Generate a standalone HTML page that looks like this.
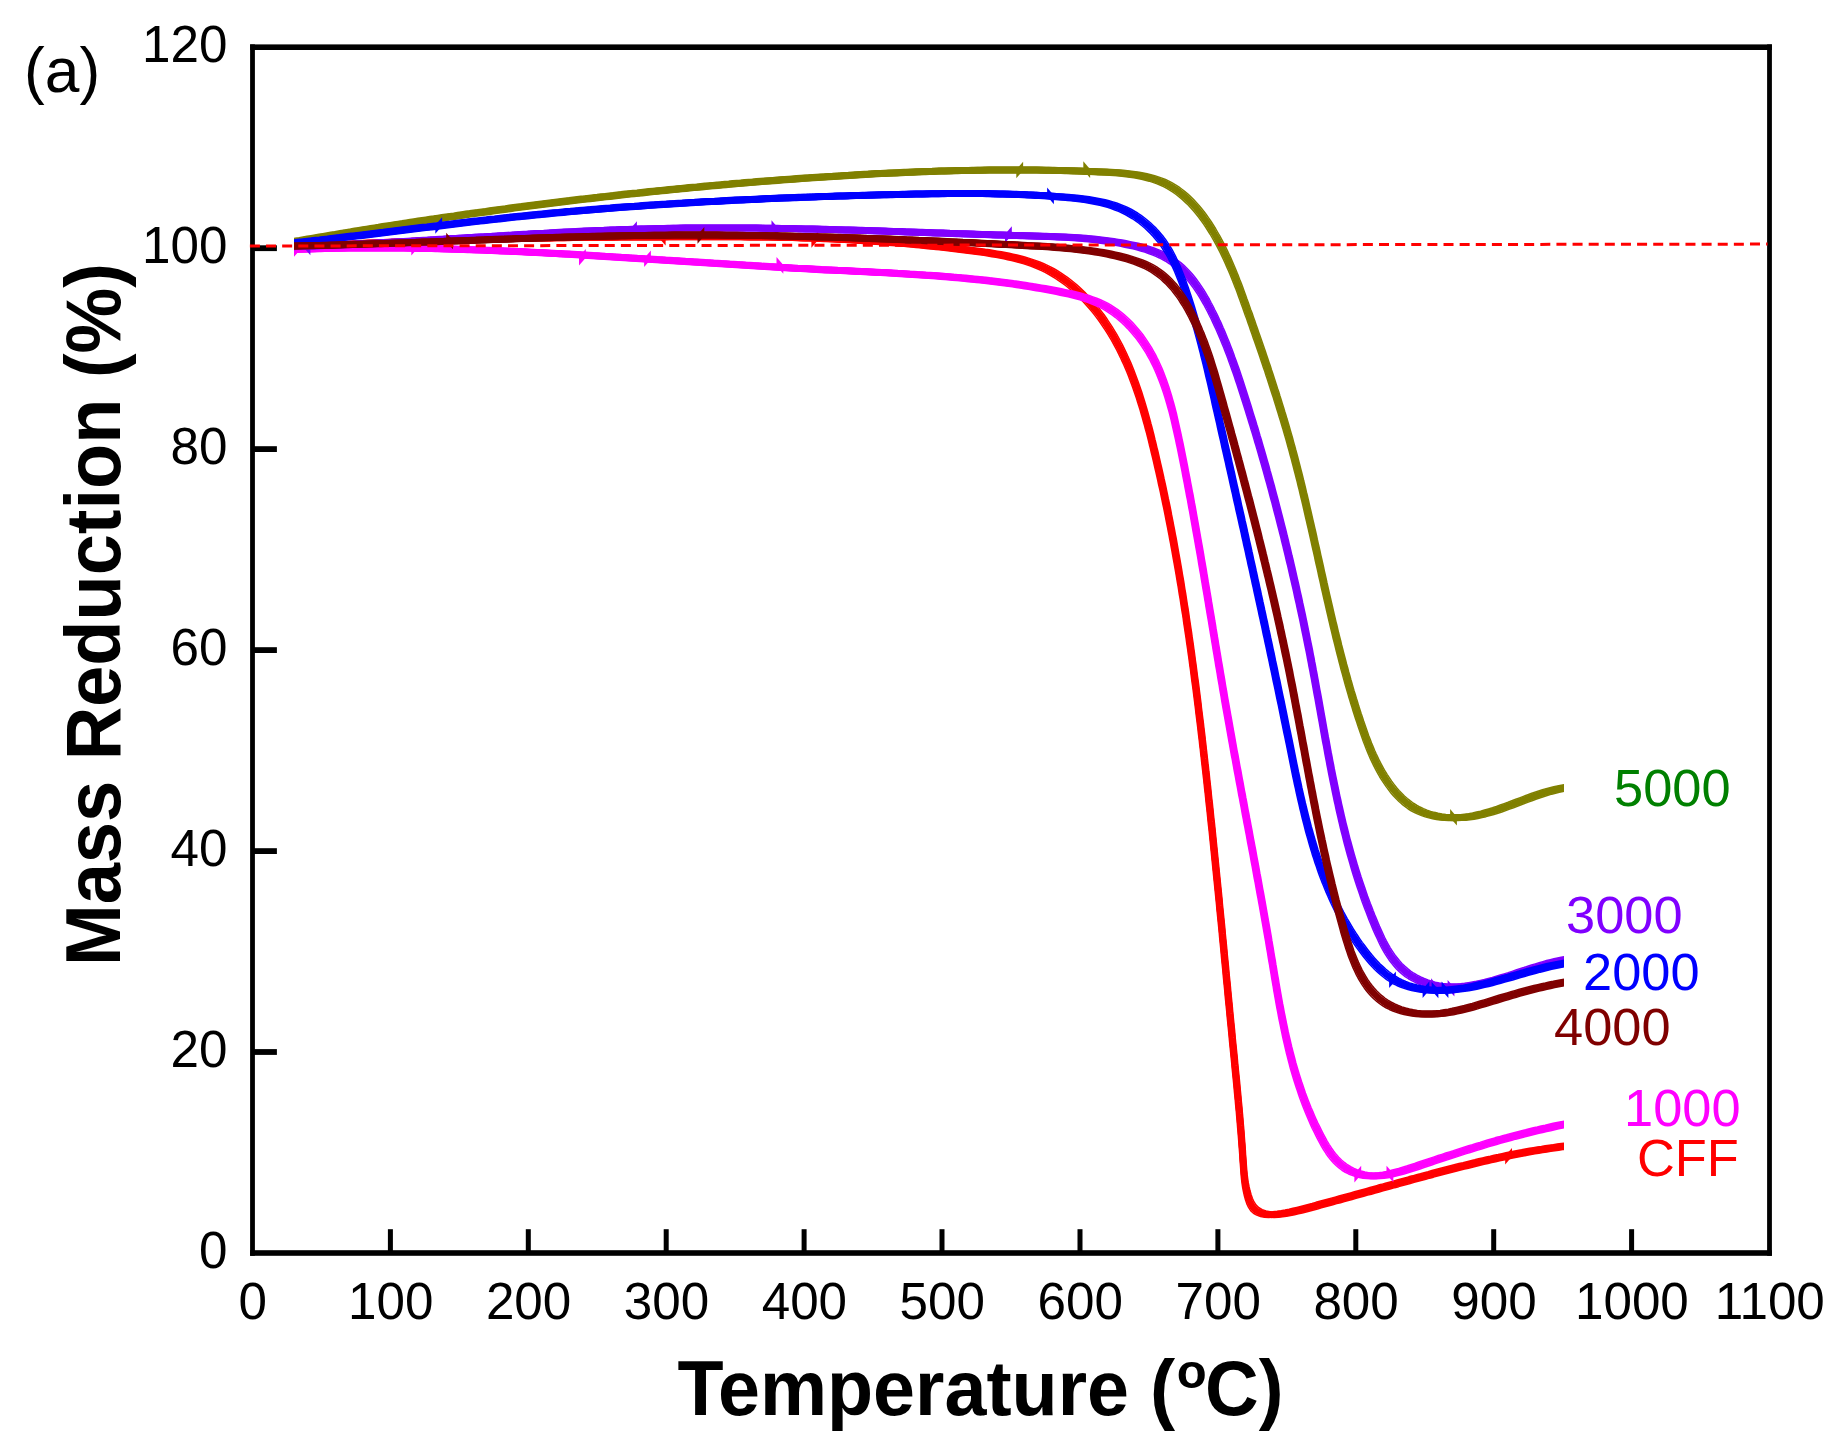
<!DOCTYPE html>
<html lang="en"><head><meta charset="utf-8"><title>TGA mass reduction vs temperature</title>
<style>
html,body{margin:0;padding:0;background:#fff;}
body{width:1844px;height:1448px;overflow:hidden;}
svg{display:block;}
text{font-family:"Liberation Sans",sans-serif;}
.tk{font-size:51.2px;fill:#000;}
.lb{font-size:52.4px;}
.ttl{font-size:77.5px;font-weight:bold;fill:#000;}
.cv{fill:none;stroke-linejoin:round;stroke-linecap:butt;}
</style></head><body>
<svg width="1844" height="1448" viewBox="0 0 1844 1448">
<rect x="0" y="0" width="1844" height="1448" fill="#fff"/>
<defs>
<clipPath id="datarange"><rect x="294" y="40" width="1270" height="1220"/></clipPath>
<path id="c-red" d="M287.0,248.0L294.0,247.5 298.0,247.2 302.0,247.0 306.0,246.7 310.0,246.4 314.0,246.2 318.0,246.0 322.0,245.7 326.0,245.5 330.0,245.2 334.0,245.0 338.1,244.8 342.1,244.6 346.1,244.4 350.1,244.1 354.1,243.9 358.1,243.7 362.1,243.5 366.1,243.3 370.1,243.1 374.1,243.0 378.1,242.8 382.1,242.6 386.1,242.4 390.1,242.2 394.1,242.1 398.1,241.9 402.1,241.8 406.1,241.6 410.1,241.4 414.1,241.3 418.1,241.1 422.1,241.0 426.1,240.9 430.1,240.7 434.2,240.6 438.2,240.5 442.2,240.3 446.2,240.2 450.2,240.1 454.2,240.0 458.2,239.8 462.2,239.7 466.2,239.6 470.2,239.5 474.2,239.4 478.2,239.3 482.2,239.2 486.2,239.1 490.2,239.0 494.2,238.9 498.2,238.8 502.2,238.7 506.2,238.7 510.2,238.6 514.3,238.5 518.3,238.4 522.3,238.4 526.3,238.3 530.3,238.2 534.3,238.1 538.3,238.1 542.3,238.0 546.3,238.0 550.3,237.9 554.3,237.8 558.3,237.8 562.3,237.7 566.3,237.7 570.3,237.6 574.4,237.6 578.4,237.5 582.4,237.5 586.4,237.4 590.4,237.4 594.4,237.4 598.4,237.3 602.4,237.3 606.4,237.2 610.4,237.2 614.5,237.2 618.5,237.1 622.5,237.1 626.5,237.1 630.5,237.1 634.5,237.0 638.5,237.0 642.5,237.0 646.6,237.0 650.6,236.9 654.6,236.9 658.6,236.9 662.6,236.9 666.6,236.8 670.6,236.8 674.7,236.8 678.7,236.8 682.7,236.8 686.7,236.8 690.7,236.7 694.7,236.7 698.7,236.7 702.8,236.7 706.8,236.7 710.8,236.7 714.8,236.7 718.8,236.7 722.8,236.7 726.9,236.7 730.9,236.8 734.9,236.8 738.9,236.8 742.9,236.8 746.9,236.9 750.9,236.9 754.9,236.9 758.9,237.0 763.0,237.0 767.0,237.1 771.0,237.1 775.0,237.2 779.0,237.3 783.0,237.4 787.0,237.4 791.0,237.5 795.0,237.6 799.0,237.7 803.0,237.9 807.0,238.0 811.0,238.1 815.0,238.2 819.0,238.4 823.0,238.5 827.0,238.7 831.0,238.8 835.0,239.0 838.9,239.2 842.9,239.4 846.9,239.6 850.9,239.8 854.9,240.0 858.9,240.2 862.9,240.5 866.8,240.7 870.8,241.0 874.8,241.2 878.8,241.5 882.8,241.8 886.7,242.1 890.7,242.4 894.7,242.7 898.7,243.0 902.7,243.3 906.7,243.6 910.7,244.0 914.6,244.3 918.6,244.7 922.6,245.1 926.6,245.5 930.6,245.9 934.6,246.3 938.6,246.7 942.6,247.1 946.6,247.6 950.6,248.0 954.6,248.5 958.6,249.0 962.6,249.5 966.6,250.0 970.6,250.5 974.6,251.0 978.6,251.5 982.6,252.1 986.6,252.6 990.6,253.2 994.6,253.9 998.6,254.6 1002.5,255.3 1006.5,256.1 1010.4,256.9 1014.3,257.8 1018.2,258.7 1022.0,259.8 1025.8,260.9 1029.6,262.1 1033.3,263.4 1037.0,264.8 1040.6,266.3 1044.2,267.9 1047.8,269.7 1051.3,271.5 1054.7,273.5 1058.1,275.6 1061.4,277.8 1064.7,280.1 1067.9,282.5 1071.0,285.0 1074.1,287.6 1077.1,290.3 1080.0,293.1 1082.9,295.9 1085.7,298.8 1088.4,301.8 1091.1,304.8 1093.7,307.8 1096.2,310.9 1098.7,314.1 1101.1,317.3 1103.4,320.5 1105.6,323.8 1107.8,327.1 1109.9,330.4 1112.0,333.8 1114.0,337.2 1115.9,340.7 1117.8,344.2 1119.7,347.7 1121.4,351.2 1123.2,354.8 1124.8,358.4 1126.5,362.0 1128.1,365.6 1129.6,369.3 1131.1,373.0 1132.5,376.7 1133.9,380.4 1135.3,384.2 1136.6,388.0 1137.9,391.8 1139.2,395.6 1140.4,399.4 1141.6,403.2 1142.8,407.1 1143.9,411.0 1145.0,414.8 1146.1,418.7 1147.2,422.6 1148.2,426.5 1149.3,430.4 1150.3,434.4 1151.3,438.3 1152.2,442.2 1153.2,446.1 1154.1,450.1 1155.1,454.0 1156.0,457.9 1156.9,461.8 1157.8,465.8 1158.7,469.7 1159.6,473.6 1160.5,477.6 1161.3,481.5 1162.2,485.4 1163.1,489.4 1163.9,493.3 1164.7,497.2 1165.5,501.2 1166.4,505.1 1167.2,509.0 1168.0,513.0 1168.7,516.9 1169.5,520.8 1170.3,524.8 1171.0,528.7 1171.8,532.7 1172.5,536.6 1173.3,540.5 1174.0,544.5 1174.7,548.4 1175.4,552.3 1176.1,556.3 1176.8,560.2 1177.5,564.2 1178.2,568.1 1178.9,572.1 1179.5,576.0 1180.2,580.0 1180.9,583.9 1181.5,587.8 1182.1,591.8 1182.8,595.7 1183.4,599.7 1184.0,603.6 1184.6,607.6 1185.3,611.5 1185.9,615.5 1186.4,619.4 1187.0,623.4 1187.6,627.3 1188.2,631.3 1188.8,635.2 1189.3,639.2 1189.9,643.2 1190.5,647.1 1191.0,651.1 1191.6,655.0 1192.1,659.0 1192.6,663.0 1193.2,666.9 1193.7,670.9 1194.2,674.8 1194.7,678.8 1195.3,682.8 1195.8,686.7 1196.3,690.7 1196.8,694.7 1197.3,698.6 1197.8,702.6 1198.3,706.6 1198.7,710.5 1199.2,714.5 1199.7,718.5 1200.2,722.5 1200.7,726.4 1201.1,730.4 1201.6,734.4 1202.1,738.4 1202.5,742.4 1203.0,746.3 1203.4,750.3 1203.9,754.3 1204.3,758.3 1204.8,762.3 1205.2,766.2 1205.7,770.2 1206.1,774.2 1206.6,778.2 1207.0,782.2 1207.4,786.2 1207.9,790.2 1208.3,794.2 1208.7,798.2 1209.1,802.1 1209.6,806.1 1210.0,810.1 1210.4,814.1 1210.8,818.1 1211.2,822.1 1211.7,826.1 1212.1,830.1 1212.5,834.1 1212.9,838.1 1213.3,842.1 1213.7,846.1 1214.1,850.1 1214.5,854.1 1214.9,858.1 1215.3,862.1 1215.7,866.1 1216.1,870.1 1216.5,874.1 1216.9,878.1 1217.3,882.1 1217.7,886.1 1218.1,890.1 1218.5,894.1 1218.9,898.1 1219.3,902.1 1219.6,906.1 1220.0,910.0 1220.4,914.0 1220.8,918.0 1221.2,922.0 1221.6,926.0 1222.0,930.0 1222.3,934.0 1222.7,938.0 1223.1,942.0 1223.5,946.0 1223.9,950.0 1224.2,954.0 1224.6,958.0 1225.0,962.0 1225.4,966.0 1225.8,970.0 1226.1,974.0 1226.5,978.0 1226.9,981.9 1227.3,985.9 1227.7,989.9 1228.0,993.9 1228.4,997.9 1228.8,1001.9 1229.2,1005.9 1229.6,1009.9 1229.9,1013.8 1230.3,1017.8 1230.7,1021.8 1231.1,1025.8 1231.5,1029.8 1231.9,1033.7 1232.2,1037.7 1232.6,1041.7 1233.0,1045.7 1233.4,1049.6 1233.8,1053.6 1234.2,1057.6 1234.6,1061.6 1234.9,1065.5 1235.3,1069.5 1235.7,1073.5 1236.1,1077.4 1236.5,1081.4 1236.9,1085.4 1237.2,1089.4 1237.6,1093.3 1238.0,1097.3 1238.3,1101.3 1238.7,1105.3 1239.1,1109.2 1239.4,1113.2 1239.8,1117.2 1240.1,1121.2 1240.4,1125.2 1240.8,1129.2 1241.1,1133.2 1241.4,1137.2 1241.7,1141.2 1242.0,1145.2 1242.3,1149.2 1242.6,1153.3 1242.8,1157.3 1243.1,1161.3 1243.4,1165.3 1243.7,1169.4 1244.0,1173.4 1244.4,1177.4 1244.9,1181.4 1245.5,1185.4 1246.3,1189.4 1247.2,1193.3 1248.3,1197.3 1249.6,1201.1 1251.3,1204.7 1253.4,1207.9 1256.2,1210.5 1259.5,1212.4 1263.3,1213.7 1267.3,1214.5 1271.4,1214.7 1275.6,1214.5 1279.8,1214.1 1283.8,1213.5 1287.8,1212.8 1291.8,1212.0 1295.7,1211.1 1299.5,1210.2 1303.4,1209.2 1307.2,1208.2 1311.0,1207.2 1314.8,1206.2 1318.6,1205.1 1322.4,1204.1 1326.3,1203.0 1330.1,1202.0 1334.0,1200.9 1337.8,1199.9 1341.7,1198.8 1345.5,1197.8 1349.4,1196.7 1353.3,1195.6 1357.1,1194.6 1361.0,1193.5 1364.9,1192.4 1368.7,1191.4 1372.6,1190.3 1376.5,1189.2 1380.4,1188.1 1384.3,1187.1 1388.1,1186.0 1392.0,1184.9 1395.9,1183.9 1399.8,1182.8 1403.7,1181.7 1407.5,1180.7 1411.4,1179.6 1415.3,1178.6 1419.2,1177.5 1423.1,1176.5 1426.9,1175.4 1430.8,1174.4 1434.7,1173.3 1438.6,1172.3 1442.4,1171.3 1446.3,1170.3 1450.2,1169.3 1454.1,1168.3 1457.9,1167.3 1461.8,1166.3 1465.7,1165.4 1469.6,1164.4 1473.5,1163.5 1477.4,1162.6 1481.3,1161.6 1485.2,1160.7 1489.0,1159.8 1493.0,1159.0 1496.9,1158.1 1500.8,1157.3 1504.7,1156.4 1508.6,1155.6 1512.5,1154.8 1516.4,1154.1 1520.4,1153.3 1524.3,1152.6 1528.2,1151.8 1532.2,1151.1 1536.1,1150.5 1540.1,1149.8 1544.1,1149.2 1548.0,1148.5 1552.0,1147.9 1556.0,1147.4 1560.0,1146.8 1564.0,1146.3 1571.0,1145.3"/>
<path id="c-magenta" d="M287.0,249.7L294.0,249.5 298.0,249.3 302.0,249.2 306.0,249.0 310.0,248.9 314.0,248.8 318.1,248.7 322.1,248.6 326.1,248.5 330.1,248.4 334.1,248.3 338.1,248.2 342.1,248.2 346.1,248.1 350.1,248.1 354.1,248.0 358.1,248.0 362.2,248.0 366.2,248.0 370.2,247.9 374.2,247.9 378.2,247.9 382.2,248.0 386.2,248.0 390.2,248.0 394.2,248.0 398.2,248.0 402.3,248.1 406.3,248.1 410.3,248.2 414.3,248.2 418.3,248.3 422.3,248.4 426.3,248.5 430.3,248.5 434.3,248.6 438.3,248.7 442.3,248.8 446.4,248.9 450.4,249.0 454.4,249.2 458.4,249.3 462.4,249.4 466.4,249.5 470.4,249.7 474.4,249.8 478.4,249.9 482.4,250.1 486.5,250.2 490.5,250.4 494.5,250.6 498.5,250.7 502.5,250.9 506.5,251.1 510.5,251.2 514.5,251.4 518.5,251.6 522.5,251.8 526.6,252.0 530.6,252.2 534.6,252.4 538.6,252.6 542.6,252.8 546.6,253.0 550.6,253.2 554.6,253.4 558.6,253.6 562.6,253.9 566.6,254.1 570.7,254.3 574.7,254.5 578.7,254.8 582.7,255.0 586.7,255.2 590.7,255.5 594.7,255.7 598.7,255.9 602.7,256.2 606.7,256.4 610.7,256.7 614.8,256.9 618.8,257.2 622.8,257.4 626.8,257.7 630.8,257.9 634.8,258.2 638.8,258.4 642.8,258.7 646.8,258.9 650.8,259.2 654.8,259.5 658.8,259.7 662.9,260.0 666.9,260.2 670.9,260.5 674.9,260.7 678.9,261.0 682.9,261.3 686.9,261.5 690.9,261.8 694.9,262.0 698.9,262.3 702.9,262.6 706.9,262.8 710.9,263.1 714.9,263.3 719.0,263.6 723.0,263.8 727.0,264.1 731.0,264.3 735.0,264.6 739.0,264.8 743.0,265.1 747.0,265.3 751.0,265.6 755.0,265.8 759.0,266.1 763.0,266.3 767.0,266.6 771.0,266.8 775.0,267.0 779.0,267.3 783.0,267.5 787.1,267.7 791.1,267.9 795.1,268.2 799.1,268.4 803.1,268.6 807.1,268.8 811.1,269.0 815.1,269.2 819.1,269.5 823.1,269.7 827.1,269.9 831.1,270.1 835.1,270.3 839.1,270.4 843.1,270.6 847.1,270.8 851.1,271.0 855.1,271.2 859.1,271.4 863.1,271.6 867.1,271.8 871.1,272.0 875.1,272.2 879.1,272.4 883.1,272.6 887.1,272.8 891.1,273.0 895.1,273.3 899.1,273.5 903.1,273.7 907.1,274.0 911.1,274.2 915.1,274.5 919.1,274.7 923.1,275.0 927.1,275.2 931.1,275.5 935.1,275.8 939.1,276.1 943.1,276.4 947.1,276.7 951.1,277.1 955.1,277.4 959.1,277.8 963.1,278.1 967.1,278.5 971.1,278.9 975.1,279.3 979.1,279.7 983.0,280.1 987.0,280.6 991.0,281.0 995.0,281.5 999.0,282.0 1003.0,282.5 1007.0,283.0 1011.0,283.6 1015.0,284.1 1019.0,284.7 1023.0,285.3 1026.9,285.9 1030.9,286.6 1034.9,287.2 1038.9,287.9 1042.9,288.6 1046.9,289.3 1050.9,290.0 1054.9,290.8 1058.8,291.6 1062.8,292.4 1066.8,293.2 1070.8,294.1 1074.7,295.0 1078.6,296.0 1082.5,297.1 1086.4,298.3 1090.2,299.6 1094.0,301.0 1097.7,302.5 1101.3,304.1 1104.9,305.9 1108.3,307.9 1111.7,310.1 1115.1,312.4 1118.3,314.8 1121.4,317.4 1124.4,320.0 1127.3,322.8 1130.1,325.6 1132.7,328.5 1135.3,331.4 1137.8,334.4 1140.2,337.5 1142.4,340.6 1144.6,343.8 1146.7,347.1 1148.8,350.4 1150.7,353.8 1152.6,357.2 1154.3,360.7 1156.1,364.2 1157.7,367.8 1159.3,371.4 1160.8,375.1 1162.2,378.7 1163.6,382.5 1164.9,386.2 1166.2,390.0 1167.4,393.9 1168.6,397.7 1169.7,401.6 1170.8,405.5 1171.9,409.4 1172.9,413.4 1173.9,417.3 1174.8,421.3 1175.7,425.3 1176.6,429.3 1177.5,433.3 1178.4,437.3 1179.2,441.3 1180.1,445.3 1180.9,449.3 1181.7,453.3 1182.5,457.3 1183.3,461.3 1184.1,465.3 1184.9,469.3 1185.6,473.3 1186.4,477.3 1187.2,481.3 1187.9,485.3 1188.7,489.3 1189.4,493.3 1190.2,497.2 1190.9,501.2 1191.6,505.2 1192.4,509.2 1193.1,513.1 1193.8,517.1 1194.5,521.1 1195.2,525.0 1195.9,529.0 1196.6,532.9 1197.3,536.9 1198.0,540.8 1198.7,544.8 1199.4,548.7 1200.1,552.7 1200.8,556.6 1201.4,560.6 1202.1,564.5 1202.8,568.5 1203.5,572.4 1204.1,576.3 1204.8,580.3 1205.4,584.2 1206.1,588.1 1206.8,592.1 1207.4,596.0 1208.1,599.9 1208.7,603.9 1209.4,607.8 1210.0,611.7 1210.7,615.7 1211.4,619.6 1212.0,623.5 1212.7,627.4 1213.3,631.4 1214.0,635.3 1214.6,639.2 1215.3,643.1 1215.9,647.1 1216.6,651.0 1217.2,654.9 1217.9,658.8 1218.5,662.8 1219.2,666.7 1219.9,670.6 1220.5,674.6 1221.2,678.5 1221.9,682.4 1222.5,686.3 1223.2,690.3 1223.9,694.2 1224.5,698.1 1225.2,702.1 1225.9,706.0 1226.6,709.9 1227.3,713.9 1228.0,717.8 1228.7,721.7 1229.4,725.7 1230.1,729.6 1230.8,733.6 1231.5,737.5 1232.2,741.4 1232.9,745.4 1233.6,749.3 1234.3,753.3 1235.1,757.2 1235.8,761.2 1236.5,765.1 1237.2,769.1 1238.0,773.0 1238.7,777.0 1239.4,780.9 1240.2,784.9 1240.9,788.8 1241.6,792.8 1242.4,796.7 1243.1,800.7 1243.9,804.6 1244.6,808.6 1245.3,812.6 1246.1,816.5 1246.8,820.5 1247.6,824.4 1248.3,828.4 1249.1,832.4 1249.8,836.3 1250.5,840.3 1251.3,844.3 1252.0,848.2 1252.8,852.2 1253.5,856.1 1254.2,860.1 1255.0,864.1 1255.7,868.0 1256.4,872.0 1257.1,876.0 1257.9,879.9 1258.6,883.9 1259.3,887.9 1260.0,891.8 1260.8,895.8 1261.5,899.8 1262.2,903.7 1262.9,907.7 1263.6,911.7 1264.3,915.6 1265.0,919.6 1265.7,923.6 1266.4,927.5 1267.1,931.5 1267.8,935.5 1268.5,939.4 1269.1,943.4 1269.8,947.4 1270.5,951.3 1271.1,955.3 1271.8,959.3 1272.5,963.2 1273.1,967.2 1273.8,971.2 1274.4,975.1 1275.1,979.1 1275.8,983.0 1276.4,987.0 1277.1,990.9 1277.8,994.9 1278.5,998.8 1279.2,1002.8 1279.9,1006.7 1280.7,1010.6 1281.4,1014.6 1282.2,1018.5 1283.0,1022.4 1283.8,1026.3 1284.6,1030.2 1285.4,1034.2 1286.3,1038.1 1287.2,1041.9 1288.1,1045.8 1289.0,1049.7 1290.0,1053.6 1291.0,1057.5 1292.0,1061.3 1293.0,1065.2 1294.1,1069.0 1295.2,1072.8 1296.4,1076.7 1297.6,1080.5 1298.8,1084.3 1300.1,1088.1 1301.4,1091.9 1302.7,1095.7 1304.1,1099.5 1305.5,1103.2 1307.0,1107.0 1308.5,1110.7 1310.1,1114.4 1311.7,1118.2 1313.3,1121.9 1315.0,1125.6 1316.8,1129.2 1318.6,1132.9 1320.5,1136.6 1322.4,1140.2 1324.4,1143.8 1326.5,1147.3 1328.7,1150.7 1331.0,1154.0 1333.4,1157.1 1336.0,1160.0 1338.8,1162.7 1341.7,1165.2 1344.7,1167.5 1348.0,1169.5 1351.3,1171.2 1354.8,1172.6 1358.4,1173.8 1362.1,1174.8 1365.8,1175.4 1369.6,1175.8 1373.5,1175.9 1377.4,1175.7 1381.3,1175.4 1385.3,1174.9 1389.2,1174.2 1393.2,1173.3 1397.2,1172.3 1401.3,1171.2 1405.3,1170.0 1409.3,1168.8 1413.3,1167.5 1417.3,1166.2 1421.3,1164.8 1425.2,1163.5 1429.1,1162.2 1433.0,1160.9 1436.9,1159.6 1440.8,1158.3 1444.6,1157.1 1448.5,1155.8 1452.3,1154.6 1456.1,1153.4 1459.9,1152.1 1463.7,1150.9 1467.5,1149.7 1471.3,1148.5 1475.1,1147.4 1478.8,1146.2 1482.6,1145.1 1486.4,1143.9 1490.2,1142.8 1493.9,1141.7 1497.7,1140.6 1501.5,1139.6 1505.3,1138.5 1509.1,1137.5 1512.9,1136.4 1516.7,1135.4 1520.6,1134.4 1524.4,1133.4 1528.3,1132.5 1532.2,1131.5 1536.1,1130.6 1540.0,1129.7 1543.9,1128.7 1547.9,1127.9 1551.9,1127.0 1555.9,1126.1 1559.9,1125.3 1564.0,1124.5 1571.0,1123.0"/>
<path id="c-olive" d="M287.0,243.1L294.0,241.8 298.0,241.1 301.9,240.5 305.8,239.8 309.8,239.1 313.7,238.4 317.7,237.7 321.6,237.0 325.5,236.4 329.5,235.7 333.4,235.0 337.4,234.4 341.3,233.7 345.3,233.1 349.2,232.4 353.2,231.8 357.2,231.1 361.1,230.5 365.1,229.8 369.0,229.2 373.0,228.5 376.9,227.9 380.9,227.3 384.9,226.6 388.8,226.0 392.8,225.4 396.7,224.8 400.7,224.2 404.7,223.6 408.6,222.9 412.6,222.3 416.6,221.7 420.5,221.1 424.5,220.5 428.5,219.9 432.4,219.3 436.4,218.8 440.4,218.2 444.3,217.6 448.3,217.0 452.3,216.4 456.3,215.9 460.2,215.3 464.2,214.7 468.2,214.1 472.2,213.6 476.1,213.0 480.1,212.5 484.1,211.9 488.1,211.4 492.1,210.8 496.0,210.3 500.0,209.7 504.0,209.2 508.0,208.7 512.0,208.1 515.9,207.6 519.9,207.1 523.9,206.6 527.9,206.0 531.9,205.5 535.9,205.0 539.8,204.5 543.8,204.0 547.8,203.5 551.8,203.0 555.8,202.5 559.8,202.0 563.8,201.5 567.7,201.0 571.7,200.6 575.7,200.1 579.7,199.6 583.7,199.1 587.7,198.7 591.7,198.2 595.7,197.7 599.7,197.3 603.6,196.8 607.6,196.4 611.6,195.9 615.6,195.5 619.6,195.0 623.6,194.6 627.6,194.1 631.6,193.7 635.6,193.3 639.6,192.9 643.6,192.4 647.5,192.0 651.5,191.6 655.5,191.2 659.5,190.8 663.5,190.4 667.5,190.0 671.5,189.6 675.5,189.2 679.5,188.8 683.5,188.4 687.5,188.0 691.5,187.6 695.4,187.2 699.4,186.9 703.4,186.5 707.4,186.1 711.4,185.8 715.4,185.4 719.4,185.0 723.4,184.7 727.4,184.3 731.4,184.0 735.4,183.6 739.4,183.3 743.4,183.0 747.3,182.6 751.3,182.3 755.3,182.0 759.3,181.6 763.3,181.3 767.3,181.0 771.3,180.7 775.3,180.4 779.3,180.1 783.3,179.8 787.2,179.5 791.2,179.2 795.2,178.9 799.2,178.6 803.2,178.3 807.2,178.0 811.2,177.8 815.2,177.5 819.1,177.2 823.1,176.9 827.1,176.7 831.1,176.4 835.1,176.2 839.1,175.9 843.1,175.7 847.0,175.4 851.0,175.2 855.0,174.9 859.0,174.7 863.0,174.5 867.0,174.3 870.9,174.1 874.9,173.8 878.9,173.6 882.9,173.4 886.9,173.2 890.9,173.0 894.9,172.9 898.9,172.7 902.8,172.5 906.8,172.3 910.8,172.2 914.8,172.0 918.8,171.8 922.8,171.7 926.8,171.5 930.8,171.4 934.8,171.3 938.8,171.1 942.8,171.0 946.8,170.9 950.8,170.8 954.8,170.7 958.8,170.6 962.8,170.5 966.8,170.4 970.8,170.4 974.8,170.3 978.8,170.2 982.9,170.2 986.9,170.1 990.9,170.1 994.9,170.0 998.9,170.0 1003.0,170.0 1007.0,170.0 1011.0,170.0 1015.0,170.0 1019.1,170.0 1023.1,170.0 1027.1,170.0 1031.2,170.1 1035.2,170.1 1039.3,170.1 1043.3,170.2 1047.4,170.3 1051.4,170.3 1055.5,170.4 1059.5,170.5 1063.6,170.6 1067.7,170.7 1071.7,170.8 1075.8,171.0 1079.9,171.1 1083.9,171.2 1088.0,171.4 1092.1,171.5 1096.2,171.7 1100.3,171.9 1104.4,172.1 1108.5,172.3 1112.5,172.5 1116.6,172.8 1120.7,173.1 1124.7,173.5 1128.7,173.9 1132.7,174.4 1136.6,175.0 1140.5,175.7 1144.3,176.5 1148.1,177.4 1151.9,178.4 1155.6,179.6 1159.2,180.9 1162.7,182.3 1166.2,183.9 1169.5,185.7 1172.8,187.6 1176.0,189.7 1179.2,192.0 1182.2,194.4 1185.2,196.9 1188.1,199.6 1190.9,202.3 1193.6,205.2 1196.3,208.2 1198.8,211.3 1201.4,214.5 1203.8,217.8 1206.2,221.1 1208.5,224.5 1210.7,228.0 1212.9,231.5 1214.9,235.0 1217.0,238.6 1218.9,242.2 1220.9,245.8 1222.7,249.4 1224.5,253.1 1226.2,256.7 1227.9,260.4 1229.5,264.1 1231.1,267.8 1232.7,271.5 1234.2,275.2 1235.7,278.9 1237.1,282.6 1238.6,286.3 1240.0,290.0 1241.3,293.7 1242.7,297.5 1244.0,301.2 1245.4,304.9 1246.7,308.7 1248.0,312.4 1249.4,316.1 1250.7,319.9 1252.0,323.6 1253.3,327.4 1254.6,331.1 1255.9,334.9 1257.2,338.6 1258.5,342.3 1259.8,346.1 1261.1,349.8 1262.4,353.6 1263.7,357.4 1264.9,361.1 1266.2,364.9 1267.5,368.6 1268.7,372.4 1270.0,376.2 1271.2,379.9 1272.4,383.7 1273.6,387.5 1274.8,391.3 1276.1,395.0 1277.2,398.8 1278.4,402.6 1279.6,406.4 1280.8,410.2 1281.9,414.0 1283.1,417.8 1284.2,421.6 1285.4,425.4 1286.5,429.3 1287.6,433.1 1288.7,436.9 1289.8,440.7 1290.8,444.6 1291.9,448.4 1292.9,452.3 1294.0,456.1 1295.0,460.0 1296.0,463.9 1297.0,467.7 1298.0,471.6 1299.0,475.5 1300.0,479.4 1300.9,483.3 1301.9,487.1 1302.8,491.0 1303.7,494.9 1304.7,498.8 1305.6,502.7 1306.5,506.6 1307.4,510.6 1308.3,514.5 1309.2,518.4 1310.1,522.3 1311.0,526.2 1311.9,530.1 1312.8,534.0 1313.7,538.0 1314.5,541.9 1315.4,545.8 1316.3,549.7 1317.2,553.7 1318.0,557.6 1318.9,561.5 1319.8,565.4 1320.7,569.3 1321.5,573.3 1322.4,577.2 1323.3,581.1 1324.1,585.0 1325.0,588.9 1325.9,592.9 1326.8,596.8 1327.7,600.7 1328.6,604.6 1329.5,608.5 1330.4,612.4 1331.3,616.3 1332.2,620.2 1333.1,624.1 1334.1,628.0 1335.0,631.9 1335.9,635.8 1336.9,639.6 1337.9,643.5 1338.8,647.4 1339.8,651.3 1340.8,655.1 1341.8,659.0 1342.8,662.8 1343.8,666.7 1344.9,670.5 1345.9,674.4 1347.0,678.2 1348.0,682.0 1349.1,685.8 1350.2,689.6 1351.3,693.4 1352.5,697.2 1353.6,701.0 1354.8,704.8 1355.9,708.6 1357.1,712.3 1358.3,716.1 1359.6,719.8 1360.8,723.6 1362.1,727.3 1363.4,731.0 1364.7,734.7 1366.0,738.4 1367.4,742.1 1368.8,745.8 1370.3,749.4 1371.8,753.0 1373.4,756.6 1375.1,760.1 1376.8,763.7 1378.6,767.1 1380.5,770.6 1382.4,774.0 1384.5,777.4 1386.7,780.7 1388.9,783.9 1391.3,787.1 1393.7,790.2 1396.3,793.2 1399.0,796.0 1401.7,798.8 1404.6,801.3 1407.6,803.7 1410.7,806.0 1413.9,808.0 1417.3,809.8 1420.7,811.4 1424.3,812.9 1427.9,814.1 1431.6,815.1 1435.4,816.0 1439.2,816.7 1443.1,817.2 1447.1,817.6 1451.1,817.7 1455.1,817.8 1459.1,817.6 1463.2,817.4 1467.2,816.9 1471.3,816.4 1475.3,815.7 1479.3,814.8 1483.3,813.9 1487.3,812.8 1491.2,811.7 1495.2,810.5 1499.1,809.2 1503.0,807.8 1506.9,806.4 1510.8,805.0 1514.6,803.5 1518.5,802.0 1522.3,800.6 1526.2,799.1 1530.0,797.7 1533.8,796.3 1537.6,795.0 1541.4,793.7 1545.2,792.5 1548.9,791.4 1552.7,790.4 1556.5,789.4 1560.2,788.7 1564.0,788.0 1571.0,786.6"/>
<path id="c-violet" d="M287.0,246.8L294.0,246.6 298.0,246.5 302.0,246.3 306.0,246.2 310.0,246.1 314.0,245.9 318.1,245.8 322.1,245.6 326.1,245.5 330.1,245.3 334.1,245.1 338.1,245.0 342.1,244.8 346.1,244.6 350.1,244.4 354.1,244.2 358.1,244.0 362.1,243.8 366.1,243.6 370.1,243.4 374.1,243.2 378.2,243.0 382.2,242.8 386.2,242.6 390.2,242.4 394.2,242.1 398.2,241.9 402.2,241.7 406.2,241.5 410.2,241.2 414.2,241.0 418.2,240.8 422.2,240.5 426.2,240.3 430.2,240.1 434.2,239.8 438.2,239.6 442.2,239.3 446.2,239.1 450.2,238.8 454.2,238.6 458.3,238.4 462.3,238.1 466.3,237.9 470.3,237.6 474.3,237.4 478.3,237.1 482.3,236.9 486.3,236.7 490.3,236.4 494.3,236.2 498.3,235.9 502.3,235.7 506.3,235.5 510.3,235.2 514.3,235.0 518.3,234.7 522.3,234.5 526.3,234.3 530.3,234.1 534.3,233.8 538.3,233.6 542.3,233.4 546.3,233.2 550.4,232.9 554.4,232.7 558.4,232.5 562.4,232.3 566.4,232.1 570.4,231.9 574.4,231.7 578.4,231.5 582.4,231.3 586.4,231.1 590.4,231.0 594.4,230.8 598.4,230.6 602.4,230.4 606.4,230.3 610.4,230.1 614.4,229.9 618.5,229.8 622.5,229.6 626.5,229.5 630.5,229.4 634.5,229.2 638.5,229.1 642.5,229.0 646.5,228.9 650.5,228.8 654.5,228.7 658.5,228.6 662.5,228.5 666.6,228.4 670.6,228.3 674.6,228.3 678.6,228.2 682.6,228.1 686.6,228.1 690.6,228.1 694.6,228.0 698.6,228.0 702.6,228.0 706.7,227.9 710.7,227.9 714.7,227.9 718.7,227.9 722.7,227.9 726.7,227.9 730.7,227.9 734.7,227.9 738.8,228.0 742.8,228.0 746.8,228.0 750.8,228.0 754.8,228.1 758.8,228.1 762.8,228.2 766.8,228.2 770.9,228.3 774.9,228.3 778.9,228.4 782.9,228.5 786.9,228.5 790.9,228.6 794.9,228.7 798.9,228.8 803.0,228.9 807.0,229.0 811.0,229.0 815.0,229.1 819.0,229.2 823.0,229.3 827.0,229.4 831.0,229.5 835.1,229.7 839.1,229.8 843.1,229.9 847.1,230.0 851.1,230.1 855.1,230.2 859.1,230.3 863.1,230.5 867.1,230.6 871.2,230.7 875.2,230.8 879.2,231.0 883.2,231.1 887.2,231.2 891.2,231.4 895.2,231.5 899.2,231.6 903.2,231.8 907.2,231.9 911.3,232.0 915.3,232.2 919.3,232.3 923.3,232.5 927.3,232.6 931.3,232.7 935.3,232.9 939.3,233.0 943.3,233.1 947.3,233.3 951.3,233.4 955.3,233.6 959.3,233.7 963.3,233.8 967.3,234.0 971.4,234.1 975.4,234.2 979.4,234.4 983.4,234.5 987.4,234.6 991.4,234.7 995.4,234.9 999.4,235.0 1003.4,235.1 1007.4,235.2 1011.4,235.4 1015.4,235.5 1019.4,235.6 1023.4,235.7 1027.4,235.8 1031.4,235.9 1035.4,236.0 1039.4,236.2 1043.4,236.3 1047.4,236.4 1051.3,236.5 1055.3,236.7 1059.3,236.9 1063.3,237.1 1067.3,237.3 1071.3,237.5 1075.3,237.7 1079.4,238.0 1083.4,238.3 1087.4,238.7 1091.4,239.1 1095.4,239.5 1099.4,239.9 1103.4,240.4 1107.4,240.9 1111.4,241.5 1115.5,242.2 1119.5,242.8 1123.5,243.6 1127.5,244.4 1131.5,245.2 1135.6,246.1 1139.5,247.1 1143.5,248.2 1147.4,249.4 1151.2,250.7 1154.9,252.1 1158.6,253.6 1162.2,255.2 1165.7,257.0 1169.0,258.9 1172.2,261.0 1175.3,263.3 1178.3,265.6 1181.2,268.1 1183.9,270.7 1186.6,273.5 1189.1,276.3 1191.6,279.3 1193.9,282.3 1196.2,285.4 1198.4,288.6 1200.6,291.9 1202.6,295.2 1204.6,298.6 1206.6,302.0 1208.4,305.5 1210.3,309.0 1212.0,312.5 1213.8,316.0 1215.5,319.6 1217.1,323.2 1218.8,326.7 1220.3,330.3 1221.9,333.9 1223.4,337.5 1224.9,341.2 1226.4,344.8 1227.8,348.5 1229.2,352.1 1230.6,355.8 1231.9,359.5 1233.3,363.2 1234.6,366.9 1235.9,370.6 1237.2,374.3 1238.4,378.0 1239.7,381.8 1240.9,385.5 1242.1,389.3 1243.3,393.0 1244.5,396.8 1245.7,400.5 1246.9,404.3 1248.1,408.1 1249.3,411.9 1250.4,415.6 1251.6,419.4 1252.8,423.2 1253.9,427.0 1255.1,430.8 1256.2,434.6 1257.3,438.4 1258.5,442.2 1259.6,446.1 1260.7,449.9 1261.8,453.7 1262.9,457.5 1264.0,461.4 1265.1,465.2 1266.2,469.0 1267.2,472.9 1268.3,476.7 1269.4,480.6 1270.4,484.4 1271.5,488.3 1272.5,492.2 1273.5,496.0 1274.6,499.9 1275.6,503.8 1276.6,507.7 1277.6,511.5 1278.6,515.4 1279.6,519.3 1280.6,523.2 1281.6,527.1 1282.6,531.0 1283.6,534.9 1284.5,538.8 1285.5,542.7 1286.4,546.6 1287.4,550.5 1288.3,554.4 1289.2,558.3 1290.2,562.2 1291.1,566.1 1292.0,570.0 1292.9,574.0 1293.8,577.9 1294.7,581.8 1295.6,585.7 1296.5,589.6 1297.3,593.6 1298.2,597.5 1299.1,601.4 1299.9,605.4 1300.8,609.3 1301.6,613.2 1302.5,617.2 1303.3,621.1 1304.1,625.0 1304.9,629.0 1305.7,632.9 1306.5,636.9 1307.3,640.8 1308.1,644.8 1308.9,648.7 1309.7,652.6 1310.4,656.6 1311.2,660.5 1311.9,664.5 1312.7,668.4 1313.4,672.4 1314.2,676.3 1314.9,680.3 1315.6,684.2 1316.3,688.2 1317.0,692.1 1317.8,696.1 1318.5,700.0 1319.2,704.0 1319.9,707.9 1320.6,711.9 1321.3,715.8 1322.0,719.7 1322.7,723.7 1323.4,727.6 1324.1,731.6 1324.8,735.5 1325.5,739.5 1326.3,743.4 1327.0,747.3 1327.7,751.3 1328.4,755.2 1329.2,759.1 1329.9,763.1 1330.7,767.0 1331.4,770.9 1332.2,774.8 1333.0,778.8 1333.8,782.7 1334.6,786.6 1335.4,790.5 1336.2,794.4 1337.0,798.3 1337.9,802.2 1338.7,806.1 1339.6,810.0 1340.5,813.9 1341.4,817.8 1342.3,821.7 1343.2,825.6 1344.2,829.5 1345.2,833.4 1346.1,837.2 1347.1,841.1 1348.2,845.0 1349.2,848.8 1350.3,852.7 1351.4,856.6 1352.5,860.4 1353.6,864.3 1354.7,868.1 1355.9,871.9 1357.1,875.8 1358.3,879.6 1359.6,883.4 1360.9,887.2 1362.2,891.1 1363.5,894.9 1364.8,898.7 1366.2,902.5 1367.6,906.3 1369.1,910.0 1370.5,913.8 1372.0,917.6 1373.6,921.4 1375.1,925.1 1376.7,928.9 1378.4,932.6 1380.1,936.3 1381.8,940.0 1383.6,943.6 1385.5,947.1 1387.5,950.6 1389.6,953.9 1391.8,957.2 1394.2,960.3 1396.6,963.3 1399.2,966.2 1402.0,968.9 1404.9,971.4 1407.9,973.8 1411.2,976.0 1414.5,977.9 1418.0,979.7 1421.5,981.3 1425.2,982.7 1428.9,983.9 1432.6,984.9 1436.4,985.7 1440.1,986.3 1444.0,986.8 1447.8,987.0 1451.7,987.1 1455.5,987.1 1459.4,986.9 1463.4,986.6 1467.3,986.1 1471.2,985.5 1475.2,984.8 1479.1,984.1 1483.1,983.2 1487.1,982.3 1491.1,981.2 1495.0,980.2 1499.0,979.0 1503.0,977.8 1506.9,976.6 1510.9,975.4 1514.8,974.1 1518.7,972.8 1522.6,971.5 1526.5,970.3 1530.4,969.0 1534.2,967.8 1538.0,966.6 1541.8,965.5 1545.6,964.4 1549.3,963.3 1553.0,962.4 1556.7,961.5 1560.4,960.7 1563.9,960.0 1571.0,958.5"/>
<path id="c-blue" d="M287.0,243.7L294.0,243.0 298.0,242.6 302.0,242.1 306.0,241.7 310.0,241.2 314.0,240.8 318.0,240.3 321.9,239.9 325.9,239.4 329.9,239.0 333.9,238.5 337.9,238.0 341.9,237.6 345.9,237.1 349.8,236.6 353.8,236.1 357.8,235.7 361.8,235.2 365.8,234.7 369.8,234.2 373.7,233.7 377.7,233.2 381.7,232.7 385.7,232.3 389.6,231.8 393.6,231.3 397.6,230.8 401.6,230.3 405.6,229.8 409.5,229.3 413.5,228.8 417.5,228.3 421.5,227.8 425.4,227.3 429.4,226.9 433.4,226.4 437.4,225.9 441.4,225.4 445.3,224.9 449.3,224.4 453.3,224.0 457.3,223.5 461.2,223.0 465.2,222.5 469.2,222.1 473.2,221.6 477.2,221.1 481.1,220.7 485.1,220.2 489.1,219.8 493.1,219.3 497.1,218.9 501.1,218.4 505.0,218.0 509.0,217.6 513.0,217.1 517.0,216.7 521.0,216.3 525.0,215.9 529.0,215.5 533.0,215.1 536.9,214.7 540.9,214.3 544.9,213.9 548.9,213.5 552.9,213.1 556.9,212.7 560.9,212.4 564.9,212.0 568.9,211.6 572.9,211.3 576.9,210.9 580.9,210.6 584.9,210.2 588.9,209.9 592.9,209.6 596.9,209.2 600.9,208.9 604.9,208.6 608.9,208.3 612.9,208.0 616.9,207.6 620.9,207.3 624.9,207.0 628.9,206.7 632.9,206.4 636.9,206.2 641.0,205.9 645.0,205.6 649.0,205.3 653.0,205.0 657.0,204.8 661.0,204.5 665.0,204.2 669.0,204.0 673.0,203.7 677.0,203.5 681.0,203.2 685.0,203.0 689.0,202.7 693.1,202.5 697.1,202.3 701.1,202.0 705.1,201.8 709.1,201.6 713.1,201.4 717.1,201.2 721.1,200.9 725.1,200.7 729.1,200.5 733.2,200.3 737.2,200.1 741.2,199.9 745.2,199.7 749.2,199.5 753.2,199.4 757.2,199.2 761.2,199.0 765.2,198.8 769.2,198.6 773.2,198.5 777.2,198.3 781.3,198.1 785.3,198.0 789.3,197.8 793.3,197.7 797.3,197.5 801.3,197.3 805.3,197.2 809.3,197.1 813.3,196.9 817.3,196.8 821.3,196.6 825.3,196.5 829.3,196.4 833.3,196.2 837.3,196.1 841.3,196.0 845.3,195.9 849.3,195.7 853.3,195.6 857.3,195.5 861.3,195.4 865.3,195.3 869.3,195.2 873.3,195.1 877.3,195.0 881.3,194.8 885.3,194.7 889.3,194.7 893.3,194.6 897.3,194.5 901.3,194.4 905.3,194.3 909.3,194.2 913.3,194.1 917.2,194.0 921.2,194.0 925.2,193.9 929.2,193.8 933.2,193.8 937.2,193.7 941.2,193.7 945.2,193.6 949.2,193.6 953.2,193.6 957.2,193.5 961.2,193.5 965.2,193.5 969.2,193.5 973.2,193.5 977.2,193.6 981.2,193.6 985.2,193.6 989.2,193.7 993.3,193.8 997.3,193.9 1001.3,193.9 1005.3,194.0 1009.4,194.2 1013.4,194.3 1017.4,194.4 1021.5,194.6 1025.5,194.8 1029.6,194.9 1033.6,195.1 1037.7,195.4 1041.7,195.6 1045.8,195.8 1049.9,196.1 1053.9,196.4 1058.0,196.7 1062.1,197.0 1066.2,197.3 1070.3,197.7 1074.4,198.1 1078.4,198.5 1082.5,199.0 1086.6,199.6 1090.6,200.2 1094.6,200.9 1098.5,201.7 1102.5,202.5 1106.3,203.5 1110.2,204.6 1113.9,205.8 1117.6,207.2 1121.3,208.6 1124.9,210.3 1128.4,212.0 1131.8,214.0 1135.2,216.0 1138.4,218.2 1141.6,220.5 1144.7,223.0 1147.7,225.5 1150.5,228.2 1153.3,230.9 1155.9,233.7 1158.4,236.7 1160.8,239.6 1163.1,242.7 1165.2,245.8 1167.2,249.0 1169.2,252.2 1171.0,255.5 1172.7,258.8 1174.3,262.2 1175.9,265.6 1177.4,269.0 1178.8,272.5 1180.2,276.0 1181.6,279.6 1182.9,283.1 1184.2,286.7 1185.5,290.3 1186.7,294.0 1187.9,297.6 1189.1,301.3 1190.3,305.0 1191.5,308.7 1192.6,312.5 1193.7,316.2 1194.8,320.0 1195.9,323.8 1197.0,327.6 1198.0,331.4 1199.1,335.2 1200.1,339.1 1201.1,342.9 1202.1,346.8 1203.1,350.6 1204.0,354.5 1205.0,358.4 1206.0,362.3 1206.9,366.2 1207.8,370.1 1208.7,374.0 1209.7,378.0 1210.6,381.9 1211.5,385.8 1212.4,389.8 1213.3,393.7 1214.2,397.6 1215.0,401.6 1215.9,405.5 1216.8,409.4 1217.7,413.4 1218.6,417.3 1219.5,421.2 1220.3,425.2 1221.2,429.1 1222.1,433.0 1223.0,436.9 1223.9,440.8 1224.7,444.8 1225.6,448.7 1226.5,452.6 1227.4,456.5 1228.3,460.4 1229.1,464.3 1230.0,468.2 1230.9,472.1 1231.8,476.0 1232.6,479.9 1233.5,483.9 1234.4,487.8 1235.3,491.7 1236.1,495.6 1237.0,499.5 1237.9,503.4 1238.7,507.3 1239.6,511.2 1240.5,515.1 1241.4,519.0 1242.2,522.9 1243.1,526.7 1244.0,530.6 1244.8,534.5 1245.7,538.4 1246.5,542.3 1247.4,546.2 1248.3,550.1 1249.1,554.0 1250.0,557.9 1250.8,561.8 1251.7,565.7 1252.6,569.6 1253.4,573.5 1254.3,577.4 1255.1,581.3 1256.0,585.2 1256.8,589.1 1257.7,593.0 1258.5,596.9 1259.4,600.8 1260.2,604.7 1261.1,608.6 1261.9,612.5 1262.8,616.4 1263.6,620.3 1264.5,624.2 1265.3,628.1 1266.1,632.0 1267.0,635.9 1267.8,639.9 1268.7,643.8 1269.5,647.7 1270.3,651.6 1271.2,655.5 1272.0,659.4 1272.8,663.4 1273.7,667.3 1274.5,671.2 1275.3,675.1 1276.1,679.1 1277.0,683.0 1277.8,686.9 1278.6,690.9 1279.4,694.8 1280.2,698.7 1281.1,702.7 1281.9,706.6 1282.7,710.6 1283.5,714.5 1284.3,718.5 1285.1,722.4 1285.9,726.4 1286.7,730.3 1287.6,734.3 1288.4,738.3 1289.2,742.2 1290.0,746.2 1290.8,750.2 1291.6,754.1 1292.4,758.1 1293.2,762.1 1294.0,766.1 1294.8,770.0 1295.6,774.0 1296.5,778.0 1297.3,782.0 1298.2,785.9 1299.0,789.9 1299.9,793.8 1300.8,797.8 1301.7,801.7 1302.6,805.7 1303.6,809.6 1304.5,813.5 1305.5,817.5 1306.5,821.4 1307.5,825.3 1308.5,829.2 1309.6,833.0 1310.7,836.9 1311.8,840.8 1312.9,844.6 1314.1,848.4 1315.2,852.3 1316.5,856.1 1317.7,859.9 1319.0,863.6 1320.3,867.4 1321.6,871.2 1323.0,874.9 1324.4,878.6 1325.9,882.3 1327.4,886.0 1328.9,889.6 1330.5,893.3 1332.1,896.9 1333.7,900.5 1335.4,904.0 1337.2,907.6 1339.0,911.1 1340.8,914.6 1342.7,918.1 1344.6,921.6 1346.6,925.0 1348.6,928.4 1350.7,931.8 1352.8,935.2 1355.0,938.5 1357.2,941.8 1359.5,945.1 1361.9,948.3 1364.3,951.5 1366.8,954.7 1369.3,957.8 1372.0,960.9 1374.6,963.8 1377.4,966.7 1380.3,969.4 1383.2,972.0 1386.3,974.5 1389.4,976.8 1392.7,979.0 1396.0,981.0 1399.5,982.7 1403.1,984.3 1406.8,985.6 1410.6,986.8 1414.4,987.8 1418.3,988.6 1422.2,989.2 1426.2,989.7 1430.1,990.1 1434.1,990.3 1438.1,990.4 1442.0,990.3 1446.0,990.2 1450.0,989.9 1454.0,989.6 1458.0,989.1 1462.1,988.5 1466.1,987.9 1470.1,987.2 1474.1,986.4 1478.1,985.5 1482.1,984.6 1486.1,983.7 1490.1,982.7 1494.1,981.6 1498.1,980.5 1502.1,979.4 1506.0,978.3 1510.0,977.2 1514.0,976.0 1517.9,974.9 1521.8,973.8 1525.7,972.6 1529.6,971.5 1533.5,970.5 1537.4,969.4 1541.3,968.4 1545.1,967.5 1548.9,966.6 1552.7,965.7 1556.5,964.9 1560.2,964.2 1564.0,963.6 1571.0,962.3"/>
<path id="c-darkred" d="M287.0,246.2L294.0,246.0 298.0,245.9 302.0,245.8 306.0,245.7 310.0,245.7 314.0,245.6 318.0,245.5 322.0,245.4 326.0,245.3 330.0,245.2 334.0,245.0 338.0,244.9 342.0,244.8 346.0,244.7 350.1,244.6 354.1,244.5 358.1,244.3 362.1,244.2 366.1,244.1 370.1,244.0 374.1,243.8 378.1,243.7 382.2,243.6 386.2,243.4 390.2,243.3 394.2,243.2 398.2,243.0 402.2,242.9 406.3,242.7 410.3,242.6 414.3,242.4 418.3,242.3 422.3,242.1 426.3,242.0 430.4,241.9 434.4,241.7 438.4,241.6 442.4,241.4 446.4,241.3 450.5,241.1 454.5,241.0 458.5,240.8 462.5,240.7 466.6,240.5 470.6,240.4 474.6,240.2 478.6,240.1 482.7,239.9 486.7,239.8 490.7,239.6 494.7,239.5 498.7,239.3 502.8,239.2 506.8,239.1 510.8,238.9 514.8,238.8 518.9,238.6 522.9,238.5 526.9,238.4 530.9,238.2 535.0,238.1 539.0,238.0 543.0,237.8 547.0,237.7 551.1,237.6 555.1,237.5 559.1,237.3 563.1,237.2 567.2,237.1 571.2,237.0 575.2,236.9 579.2,236.8 583.3,236.7 587.3,236.5 591.3,236.4 595.3,236.3 599.3,236.3 603.4,236.2 607.4,236.1 611.4,236.0 615.4,235.9 619.4,235.8 623.5,235.7 627.5,235.7 631.5,235.6 635.5,235.5 639.5,235.5 643.6,235.4 647.6,235.4 651.6,235.3 655.6,235.3 659.6,235.2 663.6,235.2 667.6,235.2 671.7,235.1 675.7,235.1 679.7,235.1 683.7,235.1 687.7,235.1 691.7,235.1 695.7,235.1 699.7,235.1 703.7,235.1 707.8,235.1 711.8,235.1 715.8,235.1 719.8,235.1 723.8,235.2 727.8,235.2 731.8,235.2 735.8,235.3 739.8,235.3 743.8,235.4 747.8,235.4 751.8,235.5 755.8,235.5 759.8,235.6 763.8,235.6 767.8,235.7 771.9,235.8 775.9,235.8 779.9,235.9 783.9,236.0 787.9,236.1 791.9,236.2 795.9,236.3 799.9,236.4 803.9,236.5 807.9,236.6 811.9,236.7 815.9,236.8 819.9,236.9 823.9,237.0 827.9,237.1 831.9,237.2 835.9,237.3 839.9,237.5 843.9,237.6 848.0,237.7 852.0,237.8 856.0,238.0 860.0,238.1 864.0,238.3 868.0,238.4 872.0,238.5 876.0,238.7 880.0,238.8 884.0,239.0 888.0,239.1 892.1,239.3 896.1,239.5 900.1,239.6 904.1,239.8 908.1,239.9 912.1,240.1 916.1,240.3 920.1,240.4 924.2,240.6 928.2,240.8 932.2,241.0 936.2,241.1 940.2,241.3 944.3,241.5 948.3,241.7 952.3,241.9 956.3,242.1 960.3,242.3 964.4,242.4 968.4,242.6 972.4,242.8 976.4,243.0 980.5,243.2 984.5,243.4 988.5,243.6 992.5,243.8 996.6,244.0 1000.6,244.2 1004.6,244.4 1008.7,244.6 1012.7,244.8 1016.7,245.0 1020.8,245.2 1024.8,245.5 1028.9,245.7 1032.9,245.9 1036.9,246.1 1041.0,246.3 1045.0,246.6 1049.1,246.8 1053.1,247.1 1057.1,247.4 1061.1,247.7 1065.2,248.0 1069.2,248.4 1073.2,248.8 1077.2,249.2 1081.2,249.7 1085.2,250.2 1089.2,250.7 1093.2,251.3 1097.2,251.9 1101.1,252.6 1105.1,253.3 1109.0,254.1 1113.0,254.9 1116.9,255.8 1120.8,256.8 1124.7,257.8 1128.6,258.9 1132.4,260.1 1136.2,261.4 1139.9,262.8 1143.6,264.3 1147.2,265.9 1150.6,267.7 1154.0,269.7 1157.2,271.8 1160.4,274.1 1163.4,276.5 1166.2,279.1 1169.0,281.8 1171.7,284.7 1174.3,287.6 1176.7,290.7 1179.1,293.9 1181.4,297.1 1183.5,300.5 1185.7,303.9 1187.7,307.4 1189.6,310.9 1191.5,314.5 1193.3,318.1 1195.1,321.7 1196.7,325.3 1198.4,329.0 1199.9,332.7 1201.5,336.4 1202.9,340.1 1204.4,343.8 1205.7,347.5 1207.1,351.3 1208.4,355.0 1209.7,358.8 1210.9,362.6 1212.1,366.4 1213.3,370.2 1214.5,374.0 1215.6,377.8 1216.7,381.7 1217.8,385.5 1218.9,389.3 1220.0,393.2 1221.1,397.0 1222.2,400.9 1223.3,404.7 1224.3,408.6 1225.4,412.5 1226.5,416.3 1227.6,420.2 1228.6,424.0 1229.7,427.9 1230.8,431.8 1231.8,435.7 1232.9,439.5 1234.0,443.4 1235.0,447.3 1236.1,451.2 1237.1,455.1 1238.2,458.9 1239.2,462.8 1240.3,466.7 1241.3,470.6 1242.4,474.5 1243.4,478.4 1244.4,482.3 1245.5,486.2 1246.5,490.1 1247.5,494.0 1248.5,497.9 1249.6,501.8 1250.6,505.7 1251.6,509.6 1252.6,513.5 1253.6,517.4 1254.6,521.3 1255.6,525.2 1256.6,529.1 1257.6,533.0 1258.6,537.0 1259.5,540.9 1260.5,544.8 1261.5,548.7 1262.5,552.6 1263.4,556.5 1264.4,560.4 1265.3,564.4 1266.3,568.3 1267.2,572.2 1268.2,576.1 1269.1,580.0 1270.0,583.9 1271.0,587.9 1271.9,591.8 1272.8,595.7 1273.7,599.6 1274.6,603.5 1275.5,607.5 1276.4,611.4 1277.3,615.3 1278.1,619.2 1279.0,623.1 1279.9,627.0 1280.7,631.0 1281.6,634.9 1282.4,638.8 1283.3,642.7 1284.1,646.6 1284.9,650.5 1285.8,654.5 1286.6,658.4 1287.4,662.3 1288.2,666.2 1289.0,670.1 1289.8,674.0 1290.5,677.9 1291.3,681.8 1292.1,685.7 1292.9,689.7 1293.6,693.6 1294.4,697.5 1295.1,701.4 1295.8,705.3 1296.6,709.2 1297.3,713.1 1298.1,717.0 1298.8,720.9 1299.5,724.8 1300.2,728.7 1301.0,732.6 1301.7,736.5 1302.4,740.4 1303.1,744.3 1303.9,748.2 1304.6,752.2 1305.3,756.1 1306.0,760.0 1306.8,763.9 1307.5,767.8 1308.2,771.7 1308.9,775.6 1309.7,779.5 1310.4,783.5 1311.2,787.4 1311.9,791.3 1312.7,795.2 1313.4,799.1 1314.2,803.1 1315.0,807.0 1315.7,810.9 1316.5,814.8 1317.3,818.8 1318.1,822.7 1318.9,826.6 1319.7,830.6 1320.5,834.5 1321.4,838.5 1322.2,842.4 1323.1,846.3 1323.9,850.3 1324.8,854.3 1325.7,858.2 1326.5,862.2 1327.4,866.1 1328.4,870.1 1329.3,874.1 1330.2,878.0 1331.2,882.0 1332.1,886.0 1333.1,890.0 1334.1,893.9 1335.1,897.9 1336.1,901.9 1337.2,905.9 1338.2,909.9 1339.3,913.9 1340.4,917.9 1341.5,921.9 1342.6,925.9 1343.7,930.0 1344.9,934.0 1346.1,938.0 1347.3,941.9 1348.6,945.9 1349.9,949.8 1351.2,953.7 1352.7,957.5 1354.2,961.2 1355.7,964.9 1357.4,968.5 1359.1,972.1 1360.9,975.5 1362.9,978.8 1364.9,982.1 1367.0,985.2 1369.3,988.2 1371.6,991.0 1374.1,993.7 1376.7,996.3 1379.5,998.7 1382.4,1001.0 1385.5,1003.1 1388.7,1005.0 1392.1,1006.7 1395.6,1008.2 1399.2,1009.6 1402.9,1010.7 1406.7,1011.7 1410.6,1012.6 1414.6,1013.2 1418.6,1013.7 1422.6,1014.0 1426.6,1014.1 1430.7,1014.1 1434.7,1013.9 1438.7,1013.6 1442.8,1013.2 1446.8,1012.6 1450.9,1011.9 1454.9,1011.1 1458.9,1010.2 1462.9,1009.3 1467.0,1008.3 1470.9,1007.2 1474.9,1006.1 1478.9,1004.9 1482.8,1003.8 1486.8,1002.6 1490.7,1001.4 1494.6,1000.2 1498.4,999.0 1502.3,997.8 1506.1,996.7 1509.9,995.6 1513.7,994.5 1517.5,993.4 1521.3,992.3 1525.1,991.3 1528.9,990.3 1532.7,989.3 1536.5,988.3 1540.4,987.4 1544.2,986.5 1548.1,985.7 1552.0,984.8 1556.0,984.1 1560.0,983.3 1564.0,982.6 1571.0,981.3"/>
</defs>
<g class="cv" clip-path="url(#datarange)">
<g stroke="#ff0000">
<use href="#c-red" stroke-width="6.5"/>
<use href="#c-red" stroke-width="1.5" transform="translate(-2.75,-2.75)"/>
<use href="#c-red" stroke-width="1.5" transform="translate(-2.75,2.75)"/>
<use href="#c-red" stroke-width="1.5" transform="translate(2.75,-2.75)"/>
<use href="#c-red" stroke-width="1.5" transform="translate(2.75,2.75)"/>
</g>
<polygon points="658.8,229.0 658.8,237.7 665.6,245.6 665.6,236.9" fill="#ff0000" stroke="none"/>
<polygon points="818.2,231.2 818.2,239.9 811.4,247.8 811.4,239.1" fill="#ff0000" stroke="none"/>
<polygon points="1512.0,1147.9 1512.0,1156.6 1505.2,1164.5 1505.2,1155.8" fill="#ff0000" stroke="none"/>
<g stroke="#ff00ff">
<use href="#c-magenta" stroke-width="6.5"/>
<use href="#c-magenta" stroke-width="1.5" transform="translate(-2.75,-2.75)"/>
<use href="#c-magenta" stroke-width="1.5" transform="translate(-2.75,2.75)"/>
<use href="#c-magenta" stroke-width="1.5" transform="translate(2.75,-2.75)"/>
<use href="#c-magenta" stroke-width="1.5" transform="translate(2.75,2.75)"/>
</g>
<polygon points="299.9,241.3 299.9,250.0 293.1,257.9 293.1,249.2" fill="#ff00ff" stroke="none"/>
<polygon points="418.1,239.0 418.1,247.7 411.3,255.6 411.3,246.9" fill="#ff00ff" stroke="none"/>
<polygon points="585.8,249.0 585.8,257.7 579.0,265.6 579.0,256.9" fill="#ff00ff" stroke="none"/>
<polygon points="650.9,250.5 650.9,259.2 644.1,267.1 644.1,258.4" fill="#ff00ff" stroke="none"/>
<polygon points="776.5,257.1 776.5,265.8 783.3,273.7 783.3,265.0" fill="#ff00ff" stroke="none"/>
<polygon points="1361.2,1165.8 1361.2,1174.5 1354.4,1182.4 1354.4,1173.7" fill="#ff00ff" stroke="none"/>
<polygon points="1386.5,1165.7 1386.5,1174.4 1393.3,1182.3 1393.3,1173.6" fill="#ff00ff" stroke="none"/>
<g stroke="#808000">
<use href="#c-olive" stroke-width="6.5"/>
<use href="#c-olive" stroke-width="1.5" transform="translate(-2.75,-2.75)"/>
<use href="#c-olive" stroke-width="1.5" transform="translate(-2.75,2.75)"/>
<use href="#c-olive" stroke-width="1.5" transform="translate(2.75,-2.75)"/>
<use href="#c-olive" stroke-width="1.5" transform="translate(2.75,2.75)"/>
</g>
<polygon points="1023.1,161.7 1023.1,170.4 1016.3,178.3 1016.3,169.6" fill="#808000" stroke="none"/>
<polygon points="1083.3,161.3 1083.3,170.0 1090.1,177.9 1090.1,169.2" fill="#808000" stroke="none"/>
<polygon points="1450.1,809.0 1450.1,817.7 1456.9,825.6 1456.9,816.9" fill="#808000" stroke="none"/>
<g stroke="#8000ff">
<use href="#c-violet" stroke-width="6.5"/>
<use href="#c-violet" stroke-width="1.5" transform="translate(-2.75,-2.75)"/>
<use href="#c-violet" stroke-width="1.5" transform="translate(-2.75,2.75)"/>
<use href="#c-violet" stroke-width="1.5" transform="translate(2.75,-2.75)"/>
<use href="#c-violet" stroke-width="1.5" transform="translate(2.75,2.75)"/>
</g>
<polygon points="303.6,238.7 303.6,247.4 310.4,255.3 310.4,246.6" fill="#8000ff" stroke="none"/>
<polygon points="636.9,221.3 636.9,230.0 630.1,237.9 630.1,229.2" fill="#8000ff" stroke="none"/>
<polygon points="771.5,220.3 771.5,229.0 778.3,236.9 778.3,228.2" fill="#8000ff" stroke="none"/>
<polygon points="1011.8,226.3 1011.8,235.0 1005.0,242.9 1005.0,234.2" fill="#8000ff" stroke="none"/>
<polygon points="1431.1,978.3 1431.1,987.0 1437.9,994.9 1437.9,986.2" fill="#8000ff" stroke="none"/>
<polygon points="1447.6,979.9 1447.6,988.6 1454.4,996.5 1454.4,987.8" fill="#8000ff" stroke="none"/>
<g stroke="#0000ff">
<use href="#c-blue" stroke-width="6.5"/>
<use href="#c-blue" stroke-width="1.5" transform="translate(-2.75,-2.75)"/>
<use href="#c-blue" stroke-width="1.5" transform="translate(-2.75,2.75)"/>
<use href="#c-blue" stroke-width="1.5" transform="translate(2.75,-2.75)"/>
<use href="#c-blue" stroke-width="1.5" transform="translate(2.75,2.75)"/>
</g>
<polygon points="442.1,217.2 442.1,225.9 435.3,233.8 435.3,225.1" fill="#0000ff" stroke="none"/>
<polygon points="1047.1,187.6 1047.1,196.3 1053.9,204.2 1053.9,195.5" fill="#0000ff" stroke="none"/>
<polygon points="1395.9,971.5 1395.9,980.2 1389.1,988.1 1389.1,979.4" fill="#0000ff" stroke="none"/>
<polygon points="1429.4,981.3 1429.4,990.0 1422.6,997.9 1422.6,989.2" fill="#0000ff" stroke="none"/>
<polygon points="1431.6,981.7 1431.6,990.4 1438.4,998.3 1438.4,989.6" fill="#0000ff" stroke="none"/>
<polygon points="1441.6,981.5 1441.6,990.2 1448.4,998.1 1448.4,989.4" fill="#0000ff" stroke="none"/>
<g stroke="#800000">
<use href="#c-darkred" stroke-width="6.5"/>
<use href="#c-darkred" stroke-width="1.5" transform="translate(-2.75,-2.75)"/>
<use href="#c-darkred" stroke-width="1.5" transform="translate(-2.75,2.75)"/>
<use href="#c-darkred" stroke-width="1.5" transform="translate(2.75,-2.75)"/>
<use href="#c-darkred" stroke-width="1.5" transform="translate(2.75,2.75)"/>
</g>
<polygon points="446.2,232.7 446.2,241.4 453.0,249.3 453.0,240.6" fill="#800000" stroke="none"/>
<polygon points="704.3,227.1 704.3,235.8 697.5,243.7 697.5,235.0" fill="#800000" stroke="none"/>
</g>
<g fill="#000">
<rect x="250.1" y="44.4" width="1521.8" height="5.6"/>
<rect x="250.1" y="1250.2" width="1521.8" height="5.6"/>
<rect x="250.1" y="44.4" width="4.8" height="1211.4"/>
<rect x="1767.1" y="44.4" width="4.8" height="1211.4"/>
<rect x="387.9" y="1229.2" width="5.0" height="23.8"/>
<rect x="525.8" y="1229.2" width="5.0" height="23.8"/>
<rect x="663.7" y="1229.2" width="5.0" height="23.8"/>
<rect x="801.6" y="1229.2" width="5.0" height="23.8"/>
<rect x="939.5" y="1229.2" width="5.0" height="23.8"/>
<rect x="1077.5" y="1229.2" width="5.0" height="23.8"/>
<rect x="1215.4" y="1229.2" width="5.0" height="23.8"/>
<rect x="1353.3" y="1229.2" width="5.0" height="23.8"/>
<rect x="1491.2" y="1229.2" width="5.0" height="23.8"/>
<rect x="1629.1" y="1229.2" width="5.0" height="23.8"/>
<rect x="252.5" y="1049.1" width="24.4" height="5.8"/>
<rect x="252.5" y="848.2" width="24.4" height="5.8"/>
<rect x="252.5" y="647.2" width="24.4" height="5.8"/>
<rect x="252.5" y="446.2" width="24.4" height="5.8"/>
<rect x="252.5" y="245.3" width="24.4" height="5.8"/>
</g>
<line x1="249.9" y1="246.0" x2="1767.6" y2="244.1" stroke="#f00" stroke-width="3" stroke-dasharray="10 6.13"/>
<g class="tk" text-anchor="end">
<text x="227.5" y="1267.6">0</text>
<text x="227.5" y="1066.6">20</text>
<text x="227.5" y="865.7">40</text>
<text x="227.5" y="664.7">60</text>
<text x="227.5" y="463.7">80</text>
<text x="227.5" y="262.8">100</text>
<text x="227.5" y="61.8">120</text>
</g>
<g class="tk" text-anchor="middle">
<text x="252.8" y="1319.2">0</text>
<text x="390.7" y="1319.2">100</text>
<text x="528.6" y="1319.2">200</text>
<text x="666.5" y="1319.2">300</text>
<text x="804.4" y="1319.2">400</text>
<text x="942.3" y="1319.2">500</text>
<text x="1080.3" y="1319.2">600</text>
<text x="1218.2" y="1319.2">700</text>
<text x="1356.1" y="1319.2">800</text>
<text x="1494.0" y="1319.2">900</text>
<text x="1631.9" y="1319.2">1000</text>
<text x="1769.8" y="1319.2">1100</text>
</g>
<text x="24" y="92" font-size="62.3" fill="#000">(a)</text>
<text class="ttl" x="677.4" y="1415.2" textLength="497.8" lengthAdjust="spacingAndGlyphs">Temperature (</text>
<text x="1176.8" y="1387.6" font-size="49" font-weight="bold" fill="#000">o</text>
<text class="ttl" x="1205" y="1415.2" textLength="78.4" lengthAdjust="spacingAndGlyphs">C)</text>
<text class="ttl" transform="translate(120.1,966) rotate(-90)" textLength="703" lengthAdjust="spacingAndGlyphs">Mass Reduction (%)</text>
<g class="lb">
<text x="1614.0" y="805.5" fill="#008000">5000</text>
<text x="1566.0" y="933.0" fill="#8000ff">3000</text>
<text x="1583.0" y="989.5" fill="#0000ff">2000</text>
<text x="1554.0" y="1044.5" fill="#800000">4000</text>
<text x="1624.0" y="1126.0" fill="#ff00ff">1000</text>
<text x="1637.0" y="1175.5" fill="#ff0000">CFF</text>
</g>
</svg>
</body></html>
